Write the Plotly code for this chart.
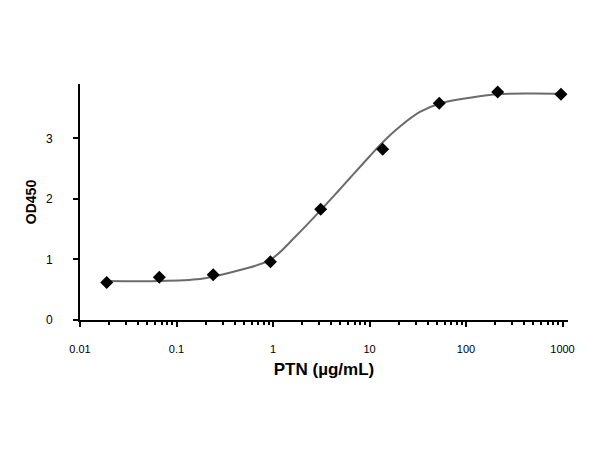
import plotly.graph_objects as go

# Measured points (concentration, OD450)
conc = [0.0189, 0.0664, 0.240, 0.94, 3.12, 13.7, 52.8, 213, 964]
od = [0.620, 0.706, 0.749, 0.964, 1.830, 2.821, 3.582, 3.769, 3.731]

# Fitted curve
fit_x = [0.01905, 0.0675, 0.1754, 0.2388, 0.455, 0.931, 1.73, 3.07, 4.60, 6.28,
         10.1, 13.9, 20.7, 33.3, 53.8, 110, 209, 460, 964]
fit_y = [0.645, 0.645, 0.678, 0.716, 0.826, 0.992, 1.388, 1.802, 2.107, 2.347,
         2.711, 2.947, 3.198, 3.438, 3.579, 3.674, 3.731, 3.744, 3.740]

x_tickvals = [0.01, 0.1, 1, 10, 100, 1000]
x_ticktext = ["0.01", "0.1", "1", "10", "100", "1000"]
y_tickvals = [0, 1, 2, 3]
y_ticktext = ["0", "1", "2", "3"]

minor_vals = [m * 10 ** k for k in range(-2, 3) for m in range(2, 10)]

FONT = "Arial, Liberation Sans, sans-serif"

fig = go.Figure()
fig.add_trace(go.Scatter(x=fit_x, y=fit_y, mode="lines",
                         line=dict(color="#6b6b6b", width=2, shape="spline", smoothing=1.0),
                         hoverinfo="skip", showlegend=False))
fig.add_trace(go.Scatter(x=conc, y=od, mode="markers",
                         marker=dict(symbol="diamond", size=10, color="black"), showlegend=False))

fig.update_layout(
    width=600, height=450,
    margin=dict(l=80, r=32, t=84, b=130),
    plot_bgcolor="white", paper_bgcolor="white",
    font=dict(family=FONT, color="black"),
    xaxis=dict(
        type="log", range=[-2, 3.057],
        tickvals=x_tickvals, ticktext=x_ticktext,
        ticks="outside", ticklen=5, tickwidth=2, tickcolor="black",
        showline=True, linecolor="black", linewidth=2,
        showgrid=False, zeroline=False,
        tickfont=dict(size=11, family=FONT, color="black"),
        ticklabelstandoff=13,
        minor=dict(tickvals=minor_vals, ticks="outside", ticklen=3, tickwidth=1.5,
                   tickcolor="black", showgrid=False),
        title=dict(text="<b>PTN (µg/mL)</b>", font=dict(size=17, family=FONT, color="black"), standoff=9),
    ),
    yaxis=dict(
        range=[0, 3.9], tickvals=y_tickvals, ticktext=y_ticktext,
        ticks="outside", ticklen=5, tickwidth=2, tickcolor="black",
        showline=True, linecolor="black", linewidth=2,
        showgrid=False, zeroline=False,
        tickfont=dict(size=12, family=FONT, color="black"),
        ticklabelstandoff=18,
        title=dict(text="<b>OD450</b>", font=dict(size=14, family=FONT, color="black"), standoff=6),
    ),
)

fig.write_html("out.html")
